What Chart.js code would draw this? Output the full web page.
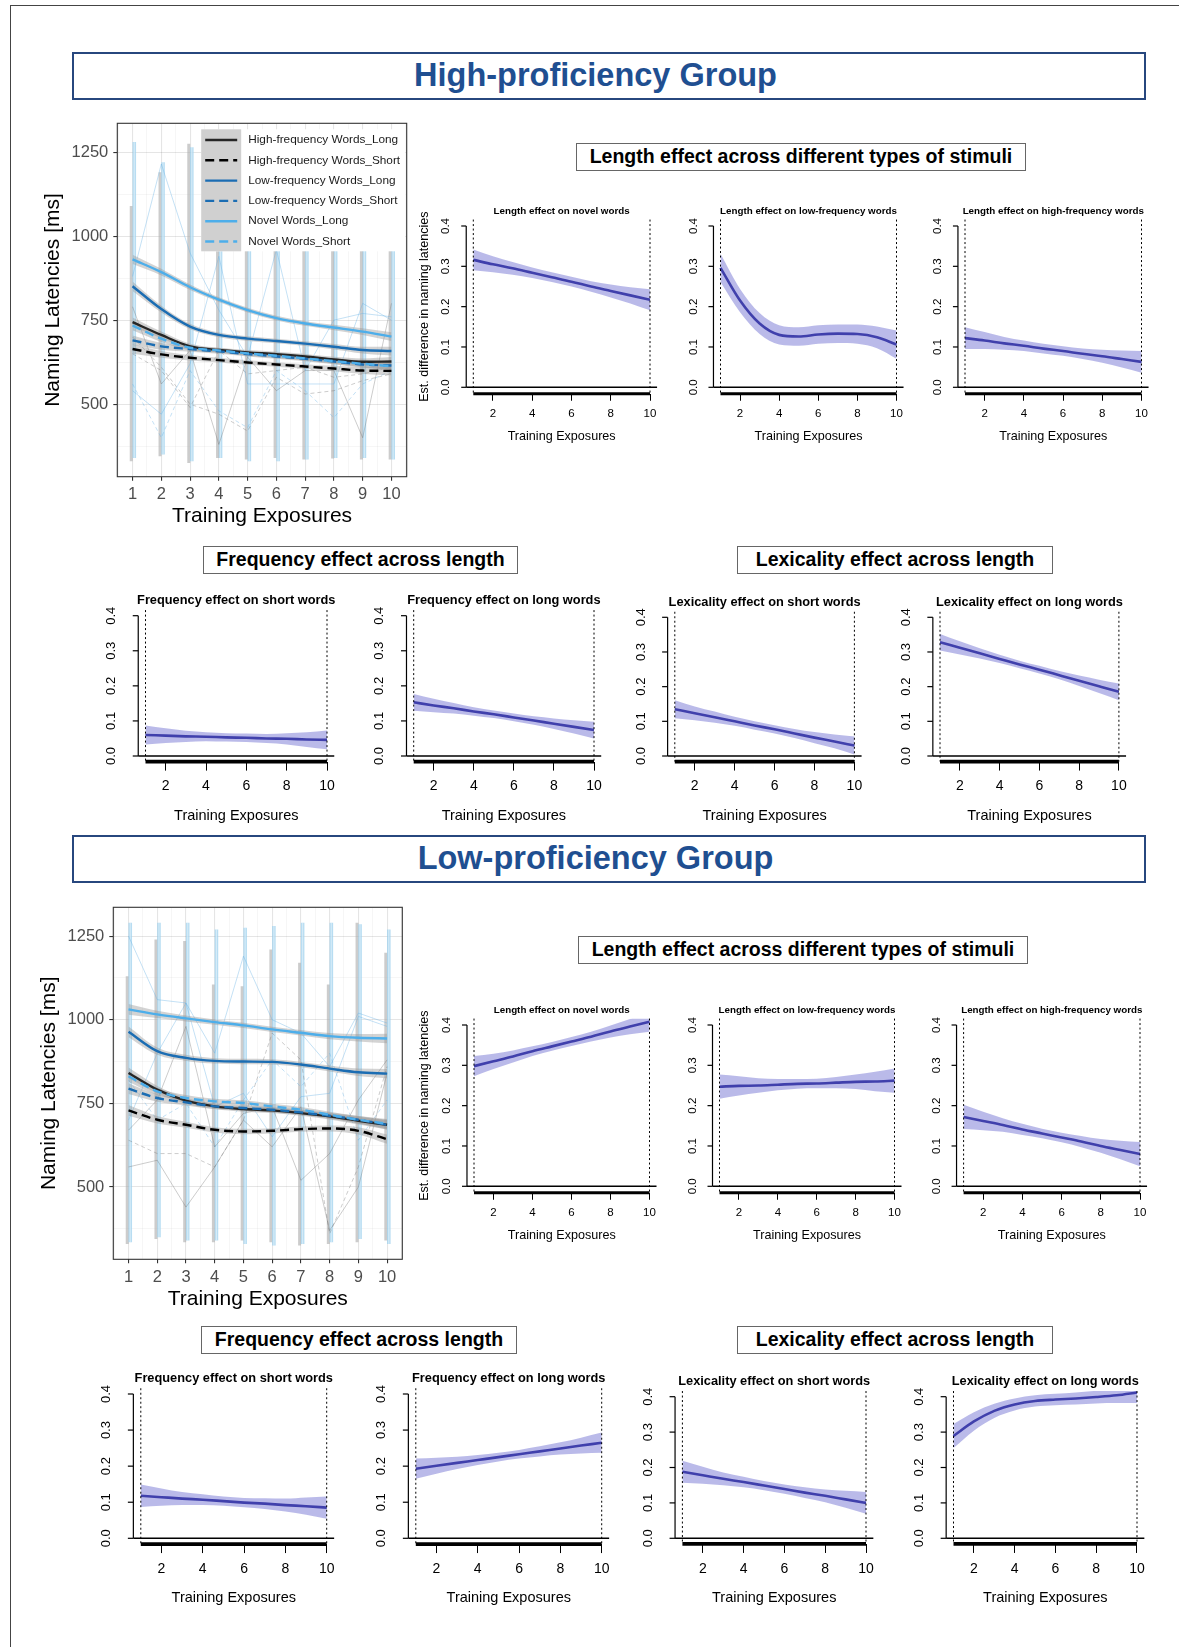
<!DOCTYPE html>
<html>
<head>
<meta charset="utf-8">
<script src="https://cdn.jsdelivr.net/npm/chart.js@4.4.1/dist/chart.umd.min.js"></script>
<style>
  body { margin: 0; background: #fff; font-family: "Liberation Sans", Arial, Helvetica, sans-serif; }
  #page { position: relative; width: 1179px; height: 1647px; overflow: hidden; background: #fff; }
  .outer { position: absolute; left: 10px; top: 5px; width: 1200px; height: 1700px; border-left: 1.5px solid #444; border-top: 1.5px solid #444; }
  .group { position: absolute; box-sizing: border-box; border: 2px solid #27477e; color: #1f4f91; font-weight: bold; font-size: 32.5px; text-align: center; padding-right: 27px; }
  .box { position: absolute; box-sizing: border-box; border: 1.4px solid #666; font-weight: bold; font-size: 19.5px; text-align: center; color: #000; }
  canvas { position: absolute; }
</style>
</head>
<body>
<div id="page">
  <div class="outer"></div>
  <div class="group" style="left:72px;top:52px;width:1074px;height:48px;line-height:43px;">High-proficiency Group</div>
  <div class="box" style="left:576px;top:143px;width:450px;height:28px;line-height:25px;">Length effect across different types of stimuli</div>
  <div class="box" style="left:203px;top:546px;width:315px;height:28px;line-height:25px;">Frequency effect across length</div>
  <div class="box" style="left:737px;top:546px;width:316px;height:28px;line-height:25px;">Lexicality effect across length</div>
  <div class="group" style="left:72px;top:835px;width:1074px;height:48px;line-height:43px;">Low-proficiency Group</div>
  <div class="box" style="left:578px;top:936px;width:450px;height:28px;line-height:25px;">Length effect across different types of stimuli</div>
  <div class="box" style="left:201px;top:1326px;width:316px;height:28px;line-height:25px;">Frequency effect across length</div>
  <div class="box" style="left:737px;top:1326px;width:316px;height:28px;line-height:25px;">Lexicality effect across length</div>
</div>
<script>
// x values shared by every panel
const exposures = [1, 2, 3, 4, 5, 6, 7, 8, 9, 10];
const seriesLabels = ['High-frequency Words_Long', 'High-frequency Words_Short', 'Low-frequency Words_Long',
  'Low-frequency Words_Short', 'Novel Words_Long', 'Novel Words_Short'];
const effectTicks = [0, 0.1, 0.2, 0.3, 0.4];

// high-proficiency group, smoothed naming latencies (ms)
const hiHFLong   = [744, 706, 672, 661, 654, 649, 642, 633, 626, 627];
const hiHFShort  = [664, 648, 638, 631, 624, 618, 612, 606, 600, 599];
const hiLFLong   = [851, 783, 731, 706, 695, 688, 680, 671, 661, 658];
const hiLFShort  = [690, 672, 664, 657, 649, 642, 635, 627, 618, 615];
const hiNovLong  = [931, 893, 848, 811, 780, 756, 740, 728, 716, 701];
const hiNovShort = [734, 695, 668, 660, 651, 644, 636, 628, 620, 613];
const hiBand     = [14, 10, 8, 7, 7, 7, 7, 8, 10, 13];
// raw data columns (ms range per exposure)
const hiGrayLow  = [330, 345, 325, 340, 335, 340, 335, 338, 335, 335];
const hiGrayHigh = [1090, 1190, 1275, 1150, 1150, 1150, 1150, 1150, 1150, 1150];
const hiBlueLow  = [340, 350, 330, 340, 330, 330, 335, 340, 340, 335];
const hiBlueHigh = [1280, 1220, 1265, 1280, 1280, 1280, 1280, 1280, 1280, 1280];

// low-proficiency group
const loHFLong   = [841, 791, 758, 741, 733, 729, 721, 711, 698, 686];
const loHFShort  = [729, 701, 686, 671, 666, 668, 673, 675, 668, 643];
const loLFLong   = [964, 906, 886, 877, 875, 874, 866, 854, 843, 839];
const loLFShort  = [794, 766, 753, 741, 736, 731, 723, 713, 701, 686];
const loNovLong  = [1031, 1016, 1004, 993, 983, 971, 961, 951, 946, 944];
const loNovShort = [831, 786, 766, 756, 751, 741, 731, 716, 701, 689];
const loBand     = [16, 11, 9, 8, 8, 8, 8, 9, 11, 14];
const loGrayLow  = [330, 345, 335, 335, 340, 335, 325, 330, 335, 340];
const loGrayHigh = [1130, 1240, 1235, 1105, 1100, 1210, 1170, 1105, 1290, 1200];
const loBlueLow  = [335, 350, 340, 340, 330, 325, 330, 335, 345, 330];
const loBlueHigh = [1290, 1290, 1290, 1270, 1275, 1280, 1290, 1290, 1285, 1270];

// a few individual traces visible behind the smooths
const hiTraces = [
  { gray: false, dash: false, v: [880, 1215, 950, 780, 640, 960, 600, 750, 770, 760] },
  { gray: false, dash: false, v: [540, 470, 620, 940, 560, 560, 560, 560, 800, 750] },
  { gray: true,  dash: false, v: [790, 560, 660, 380, 640, 540, 600, 600, 400, 800] },
  { gray: true,  dash: true,  v: [650, 600, 490, 660, 590, 600, 610, 580, 590, 610] },
  { gray: false, dash: true,  v: [560, 400, 600, 480, 430, 600, 540, 460, 560, 600] },
  { gray: true,  dash: true,  v: [700, 610, 500, 470, 420, 580, 530, 540, 570, 590] }
];
const loTraces = [
  { gray: false, dash: false, v: [1250, 1060, 1050, 900, 1190, 1000, 960, 860, 1020, 990] },
  { gray: false, dash: false, v: [700, 900, 1050, 740, 780, 650, 770, 780, 1010, 980] },
  { gray: true,  dash: false, v: [670, 760, 980, 620, 720, 740, 520, 600, 760, 880] },
  { gray: true,  dash: false, v: [560, 580, 440, 560, 700, 620, 740, 370, 500, 840] },
  { gray: true,  dash: true,  v: [640, 600, 600, 560, 700, 960, 880, 360, 560, 860] },
  { gray: false, dash: true,  v: [820, 700, 750, 620, 760, 880, 800, 900, 640, 760] }
];

// estimated differences (fit) and confidence half-widths
const hiLenNovel = [0.316, 0.305, 0.295, 0.284, 0.273, 0.262, 0.250, 0.239, 0.228, 0.217];
const hiLenNovelCI = [0.026, 0.020, 0.016, 0.013, 0.012, 0.012, 0.013, 0.016, 0.020, 0.026];
const hiLenLF = [0.296, 0.215, 0.158, 0.130, 0.126, 0.131, 0.133, 0.132, 0.124, 0.106];
const hiLenLFCI = [0.035, 0.029, 0.026, 0.024, 0.023, 0.023, 0.023, 0.024, 0.027, 0.035];
const hiLenHF = [0.122, 0.116, 0.109, 0.103, 0.096, 0.090, 0.083, 0.077, 0.070, 0.063];
const hiLenHFCI = [0.027, 0.021, 0.016, 0.013, 0.012, 0.012, 0.013, 0.016, 0.021, 0.027];
const hiFreqShort = [0.060, 0.058, 0.056, 0.055, 0.053, 0.052, 0.050, 0.049, 0.047, 0.046];
const hiFreqShortCI = [0.027, 0.021, 0.016, 0.013, 0.012, 0.012, 0.013, 0.016, 0.021, 0.027];
const hiFreqLong = [0.153, 0.144, 0.136, 0.127, 0.119, 0.110, 0.101, 0.092, 0.083, 0.074];
const hiFreqLongCI = [0.024, 0.019, 0.015, 0.012, 0.011, 0.011, 0.012, 0.015, 0.019, 0.024];
const hiLexShort = [0.135, 0.123, 0.112, 0.100, 0.088, 0.077, 0.065, 0.053, 0.042, 0.030];
const hiLexShortCI = [0.026, 0.020, 0.016, 0.013, 0.012, 0.012, 0.013, 0.016, 0.020, 0.026];
const hiLexLong = [0.328, 0.312, 0.296, 0.280, 0.264, 0.249, 0.233, 0.217, 0.201, 0.185];
const hiLexLongCI = [0.024, 0.019, 0.015, 0.012, 0.011, 0.011, 0.012, 0.015, 0.019, 0.024];

const loLenNovel = [0.298, 0.310, 0.322, 0.335, 0.347, 0.359, 0.371, 0.384, 0.396, 0.408];
const loLenNovelCI = [0.025, 0.019, 0.015, 0.012, 0.011, 0.011, 0.012, 0.015, 0.019, 0.025];
const loLenLF = [0.247, 0.249, 0.250, 0.252, 0.254, 0.255, 0.257, 0.259, 0.260, 0.262];
const loLenLFCI = [0.030, 0.024, 0.018, 0.014, 0.012, 0.012, 0.014, 0.018, 0.024, 0.030];
const loLenHF = [0.172, 0.162, 0.152, 0.141, 0.131, 0.121, 0.111, 0.100, 0.090, 0.080];
const loLenHFCI = [0.030, 0.023, 0.017, 0.014, 0.012, 0.012, 0.014, 0.017, 0.023, 0.030];
const loFreqShort = [0.118, 0.114, 0.110, 0.107, 0.103, 0.099, 0.096, 0.092, 0.089, 0.085];
const loFreqShortCI = [0.031, 0.024, 0.018, 0.015, 0.013, 0.013, 0.015, 0.018, 0.024, 0.031];
const loFreqLong = [0.193, 0.201, 0.209, 0.217, 0.225, 0.233, 0.241, 0.249, 0.257, 0.265];
const loFreqLongCI = [0.028, 0.022, 0.017, 0.014, 0.012, 0.012, 0.014, 0.017, 0.022, 0.028];
const loLexShort = [0.188, 0.178, 0.168, 0.159, 0.149, 0.139, 0.129, 0.120, 0.110, 0.100];
const loLexShortCI = [0.031, 0.024, 0.018, 0.015, 0.013, 0.013, 0.015, 0.018, 0.024, 0.031];
const loLexLong = [0.289, 0.330, 0.360, 0.378, 0.388, 0.392, 0.395, 0.399, 0.404, 0.412];
const loLexLongCI = [0.034, 0.026, 0.020, 0.017, 0.016, 0.016, 0.017, 0.018, 0.022, 0.030];

Chart.defaults.font.family = '"Liberation Sans", Arial, Helvetica, sans-serif';
Chart.defaults.animation = false;
Chart.defaults.responsive = false;
Chart.defaults.events = [];
Chart.defaults.plugins.legend.display = false;
Chart.defaults.plugins.tooltip.enabled = false;
Chart.defaults.elements.point.radius = 0;

const page = document.getElementById('page');
const FONT = '"Liberation Sans", Arial, Helvetica, sans-serif';

function addCanvas(left, top, w, h) {
  const c = document.createElement('canvas');
  c.width = w; c.height = h;
  c.style.left = left + 'px'; c.style.top = top + 'px';
  c.style.width = w + 'px'; c.style.height = h + 'px';
  page.appendChild(c);
  return c;
}

function pts(vals, shift) {
  return vals.map((y, i) => ({ x: exposures[i], y: y + (shift ? shift[i] : 0) }));
}

// vertical columns of raw points, broken with null between exposures
function columnPts(lo, hi, dx) {
  const out = [];
  exposures.forEach((x, i) => {
    out.push({ x: x + dx, y: lo[i] }, { x: x + dx, y: hi[i] }, { x: x + dx, y: null });
  });
  return out;
}

const lineColors = ['#262626', '#000000', '#1b6db3', '#1b6db3', '#4daeea', '#4daeea'];
const lineDash = [[], [9, 5], [], [9, 5], [], [9, 5]];

function drawLegend(ctx, a) {
  const x0 = a.right - 205.5, y0 = a.top + 6, w = 204, h = 122, kw = 40, rh = 20.3;
  ctx.fillStyle = '#fff';
  ctx.fillRect(x0, y0, w, h);
  ctx.fillStyle = '#d0d0d0';
  ctx.fillRect(x0, y0, kw, h);
  ctx.font = '11.8px ' + FONT;
  ctx.textBaseline = 'middle';
  ctx.textAlign = 'left';
  seriesLabels.forEach((lab, k) => {
    const y = y0 + 10.7 + k * rh;
    ctx.strokeStyle = lineColors[k];
    ctx.lineWidth = 2.4;
    ctx.setLineDash(lineDash[k]);
    ctx.beginPath(); ctx.moveTo(x0 + 4, y); ctx.lineTo(x0 + 36, y); ctx.stroke();
    ctx.setLineDash([]);
    ctx.fillStyle = '#1a1a1a';
    ctx.fillText(lab, x0 + 47, y);
  });
}

function bigChart(frame, lines, band, cols, traces, withLegend) {
  const padL = 23, yw = 77, padT = 15, padR = 15, xh = 52.5, padB = 10;
  const left = Math.round(frame.l - yw - padL), top = Math.round(frame.t - padT);
  const w = Math.round(frame.r - left + padR), h = Math.round(frame.b - top + xh + padB);
  const cv = addCanvas(left, top, w, h);

  const ds = [];
  ds.push({ data: columnPts(cols.grayLow, cols.grayHigh, -0.045), borderColor: 'rgba(170,170,170,0.6)', borderWidth: 3, order: 50 });
  ds.push({ data: columnPts(cols.blueLow, cols.blueHigh, 0.06), borderColor: 'rgba(160,210,238,0.75)', borderWidth: 3.6, order: 49 });
  ds.push({ data: columnPts(cols.blueLow, cols.blueHigh, 0.06), borderColor: 'rgba(255,255,255,0.55)', borderWidth: 0.8, order: 48 });
  traces.forEach(t => ds.push({
    data: pts(t.v), borderWidth: 1, order: 40,
    borderColor: t.gray ? 'rgba(110,110,110,0.35)' : 'rgba(100,175,230,0.38)',
    borderDash: t.dash ? [4, 3] : []
  }));
  lines.forEach(s => {
    ds.push({ data: pts(s, band.map(b => -b)), borderWidth: 0, fill: false, order: 30, cubicInterpolationMode: 'monotone' });
    ds.push({ data: pts(s, band), borderWidth: 0, fill: '-1', backgroundColor: 'rgba(150,150,150,0.42)', order: 30, cubicInterpolationMode: 'monotone' });
  });
  lines.forEach((s, k) => ds.push({
    data: pts(s), borderColor: lineColors[k], borderDash: lineDash[k], borderWidth: 2.4,
    order: 10 - k, cubicInterpolationMode: 'monotone'
  }));

  const gridColor = major => major ? 'rgba(0,0,0,0.10)' : 'rgba(0,0,0,0.055)';
  new Chart(cv, {
    type: 'line',
    data: { datasets: ds },
    options: {
      spanGaps: false,
      layout: { padding: { left: frame.l - yw - left, top: frame.t - top, right: left + w - frame.r, bottom: top + h - frame.b - xh } },
      scales: {
        x: {
          type: 'linear', min: 0.47, max: 10.53,
          ticks: { stepSize: 0.5, includeBounds: false, autoSkip: false, maxRotation: 0, padding: 4,
            color: '#4d4d4d', font: { size: 16.5 }, callback: v => Number.isInteger(v) ? v : '' },
          grid: { color: c => gridColor(Number.isInteger(c.tick.value)), lineWidth: c => Number.isInteger(c.tick.value) ? 1.1 : 0.7,
            tickLength: 4, tickColor: c => Number.isInteger(c.tick.value) ? '#333' : 'rgba(0,0,0,0)' },
          border: { display: false },
          title: { display: true, text: 'Training Exposures', color: '#000', font: { size: 21 }, padding: 0 },
          afterFit: s => { s.height = xh; }
        },
        y: {
          type: 'linear', min: 284, max: 1336,
          ticks: { stepSize: 125, includeBounds: false, padding: 5, color: '#4d4d4d', font: { size: 16.5 },
            callback: v => v % 250 === 0 ? v : '' },
          grid: { color: c => gridColor(c.tick.value % 250 === 0), lineWidth: c => c.tick.value % 250 === 0 ? 1.1 : 0.7,
            tickLength: 4, tickColor: c => c.tick.value % 250 === 0 ? '#333' : 'rgba(0,0,0,0)' },
          border: { display: false },
          title: { display: true, text: 'Naming Latencies [ms]', color: '#000', font: { size: 21 }, padding: 0 },
          afterFit: s => { s.width = yw; }
        }
      }
    },
    plugins: [{
      id: 'frameLegend',
      afterDatasetsDraw(chart) {
        const { ctx, chartArea: a } = chart;
        ctx.save();
        if (withLegend) drawLegend(ctx, a);
        ctx.strokeStyle = '#333';
        ctx.lineWidth = 1.1;
        ctx.strokeRect(a.left, a.top, a.right - a.left, a.bottom - a.top);
        ctx.restore();
      }
    }]
  });
}

const topStyle = { title: 9.8, tick: 11.5, xt: 12.6, tl: 7, tpad: 6, xh: 50.6, yfont: 11.5, yoff: 20, ytl: 5, axisW: 3.2, titleOff: 8 };
const botStyle = { title: 12.8, tick: 14, xt: 14.5, tl: 9, tpad: 7.5, xh: 63.1, yfont: 13, yoff: 26.6, ytl: 5.5, axisW: 3.8, titleOff: 9.4 };

function effectPanel(title, fit, ci, lay, st, yTitle) {
  const [x1, x10, y0, y4] = lay;
  const ppu = (x10 - x1) / 9, ppv = (y0 - y4) / 0.4;
  const a = { l: x1 - 0.36 * ppu, r: x10 + 0.36 * ppu, t: y4 - 0.016 * ppv, b: y0 + 0.016 * ppv };
  const padL = 58, padT = 26, padR = 16, padB = 4;
  const left = Math.round(a.l - padL), top = Math.round(a.t - padT);
  const w = Math.round(a.r - left + padR), h = Math.round(a.b - top + st.xh + padB);
  const cv = addCanvas(left, top, w, h);
  new Chart(cv, {
    type: 'line',
    data: {
      datasets: [
        { data: pts(fit, ci.map(c => -c)), borderWidth: 0, fill: false, cubicInterpolationMode: 'monotone' },
        { data: pts(fit, ci), borderWidth: 0, fill: '-1', backgroundColor: 'rgba(110,110,208,0.48)', cubicInterpolationMode: 'monotone' },
        { data: pts(fit), borderColor: '#16168a', borderWidth: 2.6, cubicInterpolationMode: 'monotone' }
      ]
    },
    options: {
      layout: { padding: { left: a.l - left, top: a.t - top, right: left + w - a.r, bottom: top + h - a.b - st.xh } },
      scales: {
        x: {
          type: 'linear', min: 0.64, max: 10.36,
          ticks: { stepSize: 2, includeBounds: false, autoSkip: false, maxRotation: 0, padding: st.tpad, color: '#000', font: { size: st.tick } },
          grid: { display: true, drawOnChartArea: false, drawTicks: true, tickLength: st.tl, color: '#000', lineWidth: 1 },
          border: { display: false },
          title: { display: true, text: 'Training Exposures', color: '#000', font: { size: st.xt }, padding: 0 },
          afterFit: s => { s.height = st.xh; }
        },
        y: { type: 'linear', min: -0.016, max: 0.416, display: false }
      }
    },
    plugins: [{
      id: 'baseAxes',
      afterDatasetsDraw(chart) {
        const { ctx, chartArea: ca, scales: { x, y } } = chart;
        const line = (xa, ya, xb, yb) => { ctx.beginPath(); ctx.moveTo(xa, ya); ctx.lineTo(xb, yb); ctx.stroke(); };
        ctx.save();
        ctx.strokeStyle = '#000';
        ctx.fillStyle = '#000';
        ctx.lineWidth = 1.4;
        line(ca.left, y.getPixelForValue(0), ca.right, y.getPixelForValue(0));
        ctx.lineWidth = 1;
        ctx.setLineDash([2, 2.5]);
        [1, 10].forEach(v => line(x.getPixelForValue(v), ca.top, x.getPixelForValue(v), ca.bottom));
        ctx.setLineDash([]);
        ctx.lineWidth = 1.2;
        line(ca.left, y.getPixelForValue(0), ca.left, y.getPixelForValue(0.4));
        ctx.font = st.yfont + 'px ' + FONT;
        ctx.textAlign = 'center';
        ctx.textBaseline = 'middle';
        effectTicks.forEach(v => {
          const py = y.getPixelForValue(v);
          line(ca.left - st.ytl, py, ca.left, py);
          ctx.save();
          ctx.translate(ca.left - st.yoff, py);
          ctx.rotate(-Math.PI / 2);
          ctx.fillText(v.toFixed(1), 0, 0);
          ctx.restore();
        });
        ctx.lineWidth = st.axisW;
        line(x.getPixelForValue(1), ca.bottom, x.getPixelForValue(10), ca.bottom);
        ctx.font = 'bold ' + st.title + 'px ' + FONT;
        ctx.textBaseline = 'middle';
        ctx.fillText(title, (ca.left + ca.right) / 2, ca.top - st.titleOff);
        if (yTitle) {
          ctx.save();
          ctx.font = '12.5px ' + FONT;
          ctx.translate(ca.left - 42, (y.getPixelForValue(0) + y.getPixelForValue(0.4)) / 2);
          ctx.rotate(-Math.PI / 2);
          ctx.fillText(yTitle, 0, 0);
          ctx.restore();
        }
        ctx.restore();
      }
    }]
  });
}

// ---- high-proficiency group ----
bigChart({ l: 117.3, t: 123.3, r: 406.7, b: 476.7 },
  [hiHFLong, hiHFShort, hiLFLong, hiLFShort, hiNovLong, hiNovShort], hiBand,
  { grayLow: hiGrayLow, grayHigh: hiGrayHigh, blueLow: hiBlueLow, blueHigh: hiBlueHigh }, hiTraces, true);

const yTitleText = 'Est. difference in naming latencies';
effectPanel('Length effect on novel words', hiLenNovel, hiLenNovelCI, [473.3, 650, 387.3, 226], topStyle, yTitleText);
effectPanel('Length effect on low-frequency words', hiLenLF, hiLenLFCI, [720.5, 896.5, 387.3, 226], topStyle);
effectPanel('Length effect on high-frequency words', hiLenHF, hiLenHFCI, [965, 1141.5, 387.3, 226], topStyle);
effectPanel('Frequency effect on short words', hiFreqShort, hiFreqShortCI, [145.5, 327, 756, 615.7], botStyle);
effectPanel('Frequency effect on long words', hiFreqLong, hiFreqLongCI, [413.7, 594, 756, 615.7], botStyle);
effectPanel('Lexicality effect on short words', hiLexShort, hiLexShortCI, [674.8, 854.4, 756, 617.3], botStyle);
effectPanel('Lexicality effect on long words', hiLexLong, hiLexLongCI, [940, 1118.9, 756, 617.3], botStyle);

// ---- low-proficiency group ----
bigChart({ l: 113.3, t: 907.3, r: 402.3, b: 1259.3 },
  [loHFLong, loHFShort, loLFLong, loLFShort, loNovLong, loNovShort], loBand,
  { grayLow: loGrayLow, grayHigh: loGrayHigh, blueLow: loBlueLow, blueHigh: loBlueHigh }, loTraces, false);

effectPanel('Length effect on novel words', loLenNovel, loLenNovelCI, [474, 649.5, 1186.3, 1025], topStyle, yTitleText);
effectPanel('Length effect on low-frequency words', loLenLF, loLenLFCI, [719.5, 894.5, 1186.3, 1025], topStyle);
effectPanel('Length effect on high-frequency words', loLenHF, loLenHFCI, [963.6, 1140, 1186.3, 1025], topStyle);
effectPanel('Frequency effect on short words', loFreqShort, loFreqShortCI, [140.8, 326.7, 1538.3, 1394], botStyle);
effectPanel('Frequency effect on long words', loFreqLong, loFreqLongCI, [415.8, 601.7, 1538.3, 1394], botStyle);
effectPanel('Lexicality effect on short words', loLexShort, loLexShortCI, [682.4, 866, 1538.3, 1396.7], botStyle);
effectPanel('Lexicality effect on long words', loLexLong, loLexLongCI, [953.5, 1137, 1538.3, 1396.7], botStyle);
</script>
</body>
</html>
